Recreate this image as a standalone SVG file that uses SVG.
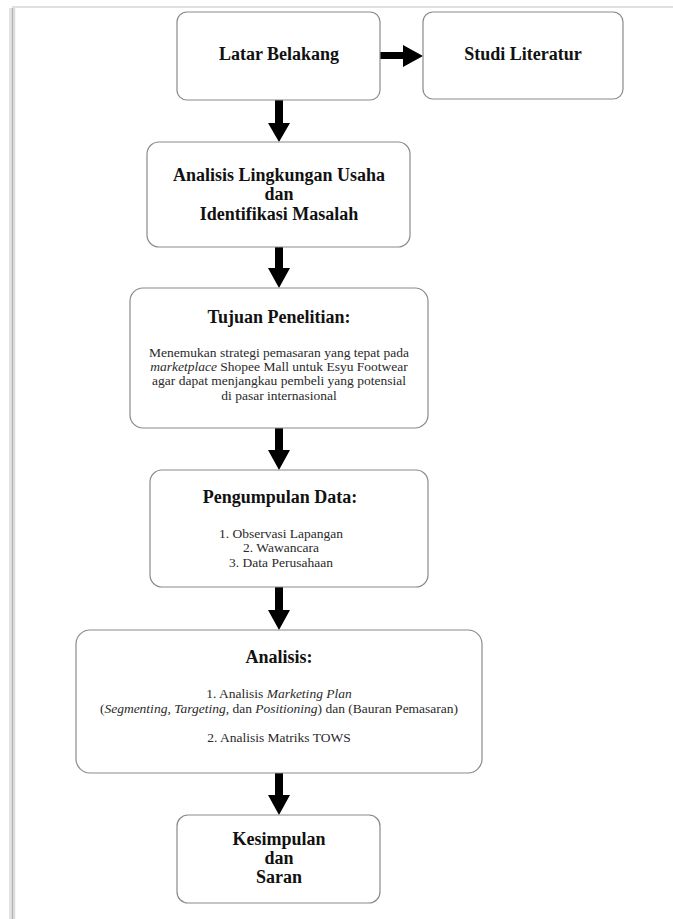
<svg xmlns="http://www.w3.org/2000/svg" width="673" height="919" viewBox="0 0 673 919">
<style>
.box{fill:#fff;stroke:#8a8a8a;stroke-width:1.2}
.t{font-family:"Liberation Serif","Times New Roman",serif;font-weight:bold;font-size:18px;fill:#111;text-anchor:middle}
.b{font-family:"Liberation Serif","Times New Roman",serif;font-size:13.5px;fill:#2a2a2a;text-anchor:middle}
.i{font-style:italic}
.arr{fill:#000}
</style>
<rect x="0" y="0" width="673" height="919" fill="#fff"/>
<g id="frame">
<line x1="12" y1="7" x2="673" y2="7" stroke="#e0e0e0" stroke-width="2"/>
<line x1="10" y1="8" x2="10" y2="919" stroke="#e4e4e4" stroke-width="2"/>
<line x1="12.5" y1="8" x2="12.5" y2="919" stroke="#b4b4b4" stroke-width="2"/>
<line x1="14.5" y1="8" x2="14.5" y2="919" stroke="#dcdcdc" stroke-width="1.5"/>
</g>
<g id="connectors">
<path class="arr" d="M380 52 H403 V45 L423 56 L403 67 V59 H380 Z"/>
<path class="arr" d="M275 100 H283 V123 H290 L279 142 L268 123 H275 Z"/>
<path class="arr" d="M275 247 H283 V268 H290 L279 288 L268 268 H275 Z"/>
<path class="arr" d="M275 428 H283 V450 H290 L279 470 L268 450 H275 Z"/>
<path class="arr" d="M275 587 H283 V610 H290 L279 630 L268 610 H275 Z"/>
<path class="arr" d="M275 773 H283 V795 H290 L279 815 L268 795 H275 Z"/>
</g>
<g id="latar">
<rect class="box" x="177" y="12" width="203" height="88" rx="10"/>
<text class="t" x="279" y="60">Latar Belakang</text>
</g>
<g id="studi">
<rect class="box" x="423" y="12" width="200" height="87" rx="10"/>
<text class="t" x="523" y="60">Studi Literatur</text>
</g>
<g id="analisis-lingkungan">
<rect class="box" x="147" y="142" width="263" height="105" rx="12"/>
<text class="t" x="279" y="181">Analisis Lingkungan Usaha</text>
<text class="t" x="279" y="200">dan</text>
<text class="t" x="279" y="220">Identifikasi Masalah</text>
</g>
<g id="tujuan">
<rect class="box" x="130" y="288" width="298" height="140" rx="13"/>
<text class="t" x="279" y="323">Tujuan Penelitian:</text>
<text class="b" x="279" y="357">Menemukan strategi pemasaran yang tepat pada</text>
<text class="b" x="279" y="371"><tspan class="i">marketplace</tspan> Shopee Mall untuk Esyu Footwear</text>
<text class="b" x="279" y="385">agar dapat menjangkau pembeli yang potensial</text>
<text class="b" x="279" y="400">di pasar internasional</text>
</g>
<g id="pengumpulan">
<rect class="box" x="150" y="470" width="278" height="117" rx="12"/>
<text class="t" x="280" y="503">Pengumpulan Data:</text>
<text class="b" x="281" y="538">1. Observasi Lapangan</text>
<text class="b" x="281" y="552">2. Wawancara</text>
<text class="b" x="281" y="567">3. Data Perusahaan</text>
</g>
<g id="analisis">
<rect class="box" x="76" y="630" width="406" height="143" rx="14"/>
<text class="t" x="279" y="663">Analisis:</text>
<text class="b" x="279" y="698">1. Analisis <tspan class="i">Marketing Plan</tspan></text>
<text class="b" x="279" y="713">(<tspan class="i">Segmenting, Targeting,</tspan> dan <tspan class="i">Positioning</tspan>) dan (Bauran Pemasaran)</text>
<text class="b" x="279" y="742">2. Analisis Matriks TOWS</text>
</g>
<g id="kesimpulan">
<rect class="box" x="177" y="815" width="203" height="88" rx="11"/>
<text class="t" x="279" y="845">Kesimpulan</text>
<text class="t" x="279" y="864">dan</text>
<text class="t" x="279" y="883">Saran</text>
</g>
</svg>
